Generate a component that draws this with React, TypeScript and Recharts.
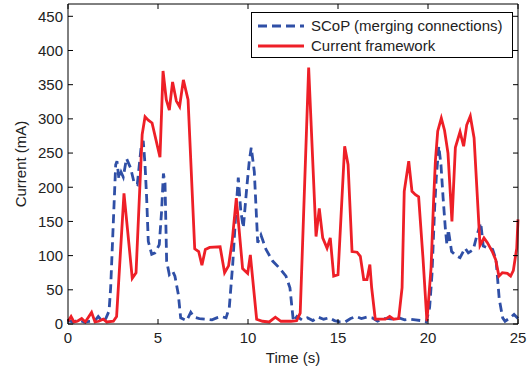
import { LineChart, Line, XAxis, YAxis } from 'recharts';

const xTicks = [0, 5, 10, 15, 20, 25];
const yTicks = [0, 50, 100, 150, 200, 250, 300, 350, 400, 450];

const scopTime = [
    0, 0.3, 0.6, 0.9, 1.2, 1.5, 1.68, 1.9, 2.1, 2.28, 2.37, 2.52, 2.65, 2.72, 2.83, 2.95, 3.07, 3.25, 3.48, 3.67,
    3.85, 4.06, 4.18, 4.28, 4.37, 4.46, 4.65, 4.83, 5.07, 5.2, 5.3, 5.39, 5.48, 5.63, 5.82, 5.94, 6.13, 6.26, 6.59, 6.82,
    7.0, 7.3, 7.7, 8.0, 8.26, 8.5, 8.78, 8.96, 9.15, 9.33, 9.46, 9.6, 9.74, 9.93, 10.07, 10.18, 10.35, 10.54, 10.72, 11.0,
    11.37, 11.74, 12.11, 12.33, 12.52, 12.72, 13.0, 13.3, 13.6, 13.9, 14.2, 14.5, 14.8, 15.1, 15.4, 15.7, 16.0, 16.3, 16.6, 16.9,
    17.2, 17.5, 17.8, 18.1, 18.4, 18.7, 19.0, 19.3, 19.6, 19.9, 20.09, 20.22, 20.37, 20.46, 20.6, 20.72, 20.84, 20.96, 21.05, 21.13,
    21.31, 21.55, 21.78, 22.06, 22.24, 22.52, 22.7, 22.93, 23.07, 23.35, 23.59, 23.78, 23.96, 24.15, 24.28, 24.56, 24.78, 25
];
const scopCurrent = [
    5, 3, 6, 3, 4, 5, 11, 4, 8, 19, 53, 150, 233, 238, 212, 222, 215, 242, 228, 207,
    204, 258, 268, 233, 184, 121, 102, 104, 116, 165, 220, 206, 92, 72, 77, 70, 43, 9, 5, 17,
    10, 8, 7, 6, 9, 11, 9, 24, 87, 165, 214, 165, 141, 199, 238, 258, 223, 119, 130, 109,
    92, 82, 70, 53, 4, 11, 6, 9, 5, 10, 7, 9, 5, 3, 3, 8, 11, 8, 10, 9,
    4, 8, 8, 7, 9, 6, 7, 6, 5, 3, 24, 72, 170, 214, 260, 233, 184, 141, 116, 138,
    106, 100, 97, 111, 104, 109, 128, 148, 114, 111, 109, 94, 36, 9, 4, 9, 14, 8
];

const frameworkTime = [
    0, 0.17, 0.33, 0.52, 0.76, 0.96, 1.31, 1.5, 1.7, 1.96, 2.15, 2.52, 2.7, 3.11, 3.57, 3.78, 4.12, 4.28, 4.46, 4.67,
    5.11, 5.28, 5.46, 5.63, 5.81, 6.02, 6.2, 6.41, 6.67, 7.04, 7.26, 7.44, 7.63, 7.87, 8.45, 8.7, 8.92, 9.12, 9.35, 9.5,
    9.7, 9.98, 10.13, 10.48, 10.81, 11.18, 11.52, 11.83, 12.39, 12.7, 12.9, 13.37, 13.78, 13.96, 14.15, 14.39, 14.57, 14.76, 15.0, 15.37,
    15.56, 15.78, 16.06, 16.24, 16.43, 16.61, 16.77, 16.87, 17.07, 17.35, 17.63, 17.87, 18.09, 18.37, 18.56, 18.68, 18.93, 19.11, 19.3, 19.48,
    19.72, 19.94, 20.17, 20.31, 20.41, 20.54, 20.74, 20.92, 21.11, 21.33, 21.52, 21.78, 21.98, 22.15, 22.35, 22.56, 22.89, 23.11, 23.3, 23.57,
    23.76, 23.94, 24.13, 24.41, 24.59, 24.74, 24.93, 25
];
const frameworkCurrent = [
    4, 11, 3, 4, 8, 3, 17, 3, 4, 7, 3, 4, 11, 191, 67, 75, 277, 303, 298, 294,
    244, 370, 328, 313, 354, 326, 318, 357, 328, 110, 106, 86, 109, 112, 113, 75, 85, 121, 184, 140,
    81, 74, 101, 7, 4, 3, 10, 4, 4, 5, 16, 375, 128, 169, 126, 111, 126, 70, 72, 260,
    233, 106, 105, 99, 65, 65, 87, 53, 7, 7, 7, 11, 7, 8, 53, 194, 238, 194, 189, 186,
    97, 4, 82, 180, 238, 282, 301, 283, 250, 150, 258, 281, 260, 291, 304, 272, 115, 126, 119, 106,
    94, 70, 75, 74, 70, 78, 111, 153
];

const scopData = scopTime.map((t, i) => ({ t, v: scopCurrent[i] }));
const frameworkData = frameworkTime.map((t, i) => ({ t, v: frameworkCurrent[i] }));

const BLUE = '#2f4fa6';
const RED = '#ee1f27';
const TEXT = '#222';
const FONT = '"Liberation Sans", Arial, Helvetica, sans-serif';

function BottomTick(props: any) {
    const { x, y, payload } = props;
    const axisY = y - 8;
    return (
        <g>
            <line x1={x} y1={axisY} x2={x} y2={axisY - 5} stroke="#000" />
            <text x={x} y={y + 11} textAnchor="middle" fill={TEXT} fontSize={15} fontFamily={FONT}>{payload.value}</text>
        </g>
    );
}

function LeftTick(props: any) {
    const { x, y, payload } = props;
    const axisX = x + 5;
    return (
        <g>
            <line x1={axisX} y1={y} x2={axisX + 5} y2={y} stroke="#000" />
            <text x={x} y={y} dy="0.36em" textAnchor="end" fill={TEXT} fontSize={15} fontFamily={FONT}>{payload.value}</text>
        </g>
    );
}

function TopTick(props: any) {
    const { x, y } = props;
    return <line x1={x} y1={y} x2={x} y2={y + 5} stroke="#000" />;
}

function RightTick(props: any) {
    const { x, y } = props;
    return <line x1={x} y1={y} x2={x - 5} y2={y} stroke="#000" />;
}

function YLabel(props: any) {
    const { viewBox } = props;
    const cx = viewBox.x + 21;
    const cy = viewBox.y + viewBox.height / 2;
    return (
        <text x={cx} y={cy} transform={`rotate(-90, ${cx}, ${cy})`} textAnchor="middle" dy="0.36em" fill={TEXT} fontSize={15} fontFamily={FONT}>
            Current (mA)
        </text>
    );
}

function LegendBox() {
    const row = { display: 'flex', alignItems: 'center', height: 20 };
    return (
        <div style={{ position: 'absolute', left: 251, top: 12, width: 262, height: 46, border: '1px solid #000', background: '#fff', boxSizing: 'border-box', padding: '3px 0 0 5px', fontFamily: FONT, fontSize: 15, color: TEXT, lineHeight: '20px' }}>
            <div style={row}>
                <svg width={48} height={10}><line x1={1} y1={5} x2={47} y2={5} stroke={BLUE} strokeWidth={2.8} strokeDasharray="9 5" /></svg>
                <span style={{ marginLeft: 6 }}>SCoP (merging connections)</span>
            </div>
            <div style={row}>
                <svg width={48} height={10}><line x1={1} y1={5} x2={47} y2={5} stroke={RED} strokeWidth={2.8} /></svg>
                <span style={{ marginLeft: 6 }}>Current framework</span>
            </div>
        </div>
    );
}

export default function App() {
    return (
        <div style={{ position: 'absolute', left: 0, top: 0, width: 530, height: 369, background: '#fff' }}>
            <LineChart width={530} height={369} margin={{ top: 3, right: 11, left: 0, bottom: 0 }}>
                <XAxis
                    xAxisId="b"
                    type="number"
                    dataKey="t"
                    domain={[0, 25]}
                    ticks={xTicks}
                    height={45}
                    tickSize={0}
                    tickMargin={8}
                    tickLine={false}
                    stroke="#000"
                    tick={<BottomTick />}
                    label={{ value: 'Time (s)', position: 'insideBottom', offset: 6, fill: TEXT, fontSize: 15, fontFamily: FONT }}
                />
                <XAxis
                    xAxisId="top"
                    orientation="top"
                    type="number"
                    dataKey="t"
                    domain={[0, 25]}
                    ticks={xTicks}
                    height={1}
                    tickSize={0}
                    tickMargin={0}
                    tickLine={false}
                    stroke="#000"
                    tick={<TopTick />}
                />
                <YAxis
                    yAxisId="l"
                    type="number"
                    domain={[0, 468]}
                    ticks={yTicks}
                    width={68}
                    tickSize={0}
                    tickMargin={5}
                    tickLine={false}
                    stroke="#000"
                    tick={<LeftTick />}
                    label={{ content: <YLabel /> }}
                />
                <YAxis
                    yAxisId="r"
                    orientation="right"
                    type="number"
                    domain={[0, 468]}
                    ticks={yTicks}
                    width={1}
                    tickSize={0}
                    tickMargin={0}
                    tickLine={false}
                    stroke="#000"
                    tick={<RightTick />}
                />
                <Line
                    xAxisId="b"
                    yAxisId="l"
                    data={scopData}
                    dataKey="v"
                    name="SCoP (merging connections)"
                    type="linear"
                    stroke={BLUE}
                    strokeWidth={2.8}
                    strokeDasharray="9 5"
                    dot={false}
                    isAnimationActive={false}
                />
                <Line
                    xAxisId="top"
                    yAxisId="r"
                    data={frameworkData}
                    dataKey="v"
                    name="Current framework"
                    type="linear"
                    stroke={RED}
                    strokeWidth={2.8}
                    dot={false}
                    isAnimationActive={false}
                />
            </LineChart>
            <LegendBox />
        </div>
    );
}
